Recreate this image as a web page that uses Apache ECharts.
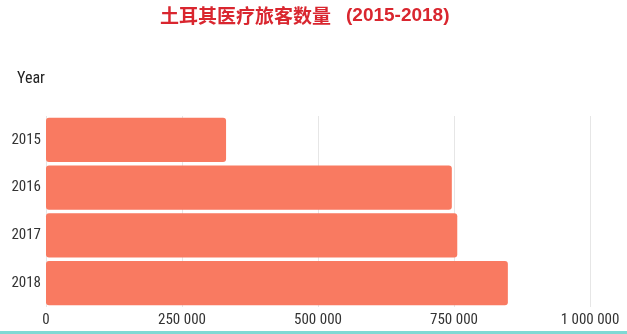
<!DOCTYPE html>
<html><head><meta charset="utf-8">
<script src="https://cdn.jsdelivr.net/npm/echarts@6/dist/echarts.min.js"></script>
<style>html,body{margin:0;padding:0;background:#fff}#c{width:627px;height:334px}</style>
</head><body><div id="c"></div>
<script>
const categories = ['2015', '2016', '2017', '2018'];
const travelers = [331000, 746000, 756000, 849000];
const xTicks = [0, 250000, 500000, 750000, 1000000];
const titleMain = '土耳其医疗旅客数量';
const titleYears = '(2015-2018)';
const yAxisName = 'Year';

const chart = echarts.init(document.getElementById('c'));
const font = '"Liberation Sans Narrow", "Roboto Condensed", "Liberation Sans", sans-serif';
chart.setOption({
  animation: false,
  title: {
    text: '{a|' + titleMain + '}{g|}{b|' + titleYears + '}', left: 155, top: 1,
    textStyle: {
      rich: {
        a: { color: '#d9262f', fontSize: 19, fontWeight: 'bold', fontFamily: '"Noto Sans CJK SC", sans-serif' },
        g: { width: 15 },
        b: { color: '#d9262f', fontSize: 19, fontWeight: 'bold', fontFamily: '"Liberation Sans", sans-serif' }
      }
    }
  },
  grid: { left: 46, right: 37, top: 116, bottom: 27, outerBoundsMode: 'none', containLabel: false },
  xAxis: {
    type: 'value', min: xTicks[0], max: xTicks[xTicks.length - 1], interval: xTicks[1] - xTicks[0],
    axisLine: { show: false }, axisTick: { show: false },
    splitLine: { lineStyle: { color: '#e6e6e6' } },
    axisLabel: {
      color: '#333', fontSize: 15, fontFamily: font, margin: 6,
      formatter: v => String(v).replace(/\B(?=(\d{3})+(?!\d))/g, ' ')
    }
  },
  yAxis: {
    type: 'category', data: categories, inverse: true,
    name: yAxisName, nameLocation: 'start', nameGap: 29,
    nameTextStyle: { color: '#222', fontSize: 16, fontFamily: font, align: 'left', padding: [0, 0, 0, -29] },
    axisLine: { show: false }, axisTick: { show: false },
    axisLabel: { color: '#333', fontSize: 15, fontFamily: font, margin: 5 }
  },
  series: [{
    type: 'bar', data: travelers, barCategoryGap: '7%',
    itemStyle: { color: '#f97a61', borderRadius: 3 }
  }],
  graphic: [{
    type: 'rect', left: 0, bottom: 0, shape: { width: 627, height: 3 },
    style: { fill: '#7fd9d4' }
  }]
});
</script></body></html>
